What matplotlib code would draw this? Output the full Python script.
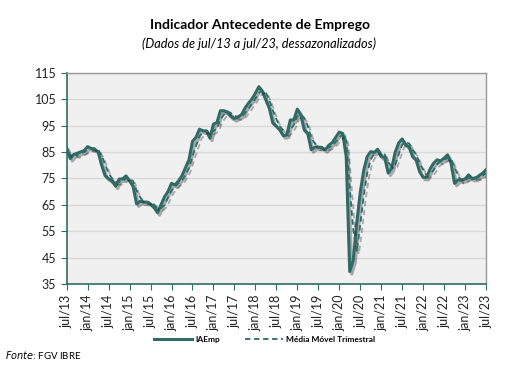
import numpy as np
import matplotlib
matplotlib.use('Agg')
import matplotlib.pyplot as plt
import matplotlib.patheffects as pe
from matplotlib.lines import Line2D

plt.rcParams['font.family'] = ['Lato', 'DejaVu Sans']

# dados (jul/13 a jul/23, mensal)
iaemp = [86.5, 82.5, 84.0, 84.5, 85.0, 85.5, 87.0, 86.3, 86.0, 85.0,
         80.0, 76.0, 74.8, 74.0, 72.0, 74.7, 74.8, 75.9, 74.0, 72.0,
         65.3, 66.3, 66.0, 66.0, 65.3, 64.0, 62.0, 65.0, 68.0, 70.0,
         73.1, 72.5, 74.0, 76.0, 79.0, 82.0, 89.0, 90.5, 93.6, 93.0,
         92.9, 90.2, 95.5, 96.1, 100.6, 100.6, 100.0, 98.4, 97.6, 98.3,
         99.0, 101.5, 103.4, 105.0, 107.2, 109.7, 107.9, 104.7, 101.5, 95.9,
         94.8, 93.3, 91.1, 91.4, 97.1, 97.1, 101.2, 99.0, 93.3, 92.0,
         85.8, 86.8, 86.8, 86.7, 85.8, 87.5, 88.5, 90.5, 92.5, 92.0,
         83.2, 39.7, 44.0, 58.0, 69.5, 78.0, 83.2, 85.1, 84.8, 86.0,
         83.2, 83.0, 77.0, 78.8, 84.8, 88.3, 89.9, 87.7, 86.9, 83.2,
         82.0, 77.5, 75.4, 75.4, 78.5, 80.7, 82.0, 81.6, 82.6, 83.9,
         80.7, 73.1, 74.4, 74.4, 74.7, 76.3, 75.0, 75.0, 76.0, 76.9,
         78.2]

media_movel = [85.5, 84.0, 84.3, 83.7, 84.5, 85.0, 85.8, 86.3, 86.4, 85.8,
               83.7, 80.3, 76.9, 74.9, 73.6, 73.6, 73.8, 75.1, 74.9, 74.0,
               70.4, 67.9, 65.9, 66.1, 65.8, 65.1, 63.8, 63.7, 65.0, 67.7,
               70.4, 71.9, 73.2, 74.2, 76.3, 79.0, 83.3, 87.2, 91.0, 92.4,
               93.2, 92.0, 92.9, 93.9, 97.4, 99.1, 100.4, 99.7, 98.7, 98.1,
               98.3, 99.6, 101.3, 103.3, 105.2, 107.3, 108.3, 107.4, 104.7, 100.7,
               97.4, 94.7, 93.1, 91.9, 93.2, 95.2, 98.5, 99.1, 97.8, 94.8,
               90.4, 88.2, 86.5, 86.8, 86.4, 86.7, 87.3, 88.8, 90.5, 91.7,
               89.2, 71.6, 55.6, 47.2, 57.2, 68.5, 76.9, 82.1, 84.4, 85.3,
               84.7, 84.1, 81.1, 79.6, 80.2, 84.0, 87.7, 88.6, 88.2, 85.9,
               84.0, 80.9, 78.3, 76.1, 76.4, 78.2, 80.4, 81.4, 82.1, 82.7,
               82.4, 79.2, 76.1, 74.0, 74.5, 75.1, 75.3, 75.4, 75.3, 76.0,
               77.0]

tick_labels = ['jul/13', 'jan/14', 'jul/14', 'jan/15', 'jul/15', 'jan/16', 'jul/16',
               'jan/17', 'jul/17', 'jan/18', 'jul/18', 'jan/19', 'jul/19', 'jan/20',
               'jul/20', 'jan/21', 'jul/21', 'jan/22', 'jul/22', 'jan/23', 'jul/23']

cor = '#2f6b66'
meses = np.arange(len(iaemp))

fig = plt.figure(figsize=(5.19, 3.68), dpi=100)
ax = fig.add_axes([0.1285, 0.2283, 0.8079, 0.5742])
ax.set_facecolor('#f0f0f0')

sombra = [pe.SimpleLineShadow(offset=(1.5, -1.8), shadow_color='black', alpha=0.3), pe.Normal()]
ax.plot(meses, iaemp, color=cor, lw=2.2, path_effects=sombra, zorder=3)
ax.plot(meses, media_movel, color=cor, lw=1.3, ls=(0, (3, 2)), path_effects=sombra, zorder=3)

ax.set_xlim(0, 120)
ax.set_ylim(35, 115)
ax.set_yticks(np.arange(35, 116, 10))
ax.set_xticks(np.arange(0, 121, 6))
ax.set_xticklabels(tick_labels, rotation=90, fontsize=9, color='#222222')
ax.tick_params(axis='y', labelsize=9, labelcolor='#222222', length=4, color=cor)
ax.tick_params(axis='x', length=4, color=cor)
ax.grid(axis='y', color='#d8d8d8', lw=1.0)
ax.set_axisbelow(True)
for s in ['left', 'bottom']:
    ax.spines[s].set_color(cor)
    ax.spines[s].set_linewidth(1.2)
for s in ['top', 'right']:
    ax.spines[s].set_color('#999999')
    ax.spines[s].set_linewidth(1.0)

fig.text(0.5, 0.932, 'Indicador Antecedente de Emprego', ha='center', va='center',
         fontsize=10, fontweight='bold')
fig.text(0.5, 0.882, '(Dados de jul/13 a jul/23, dessazonalizados)', ha='center', va='center',
         fontsize=9.2, style='italic')

# legenda
h1 = Line2D([], [], color=cor, lw=2.2)
h2 = Line2D([], [], color=cor, lw=1.3, ls=(0, (3, 2)))
fig.legend([h1, h2], ['IAEmp', 'Média Móvel Trimestral'], loc='center', bbox_to_anchor=(0.51, 0.078),
           ncol=2, frameon=False, prop={'size': 6, 'weight': 'bold'}, handlelength=4.5,
           columnspacing=3, handletextpad=0.4)

fig.text(0.01, 0.035, r'$\it{Fonte}$: FGV IBRE', fontsize=7, va='center')

fig.savefig('out.png', dpi=100)
